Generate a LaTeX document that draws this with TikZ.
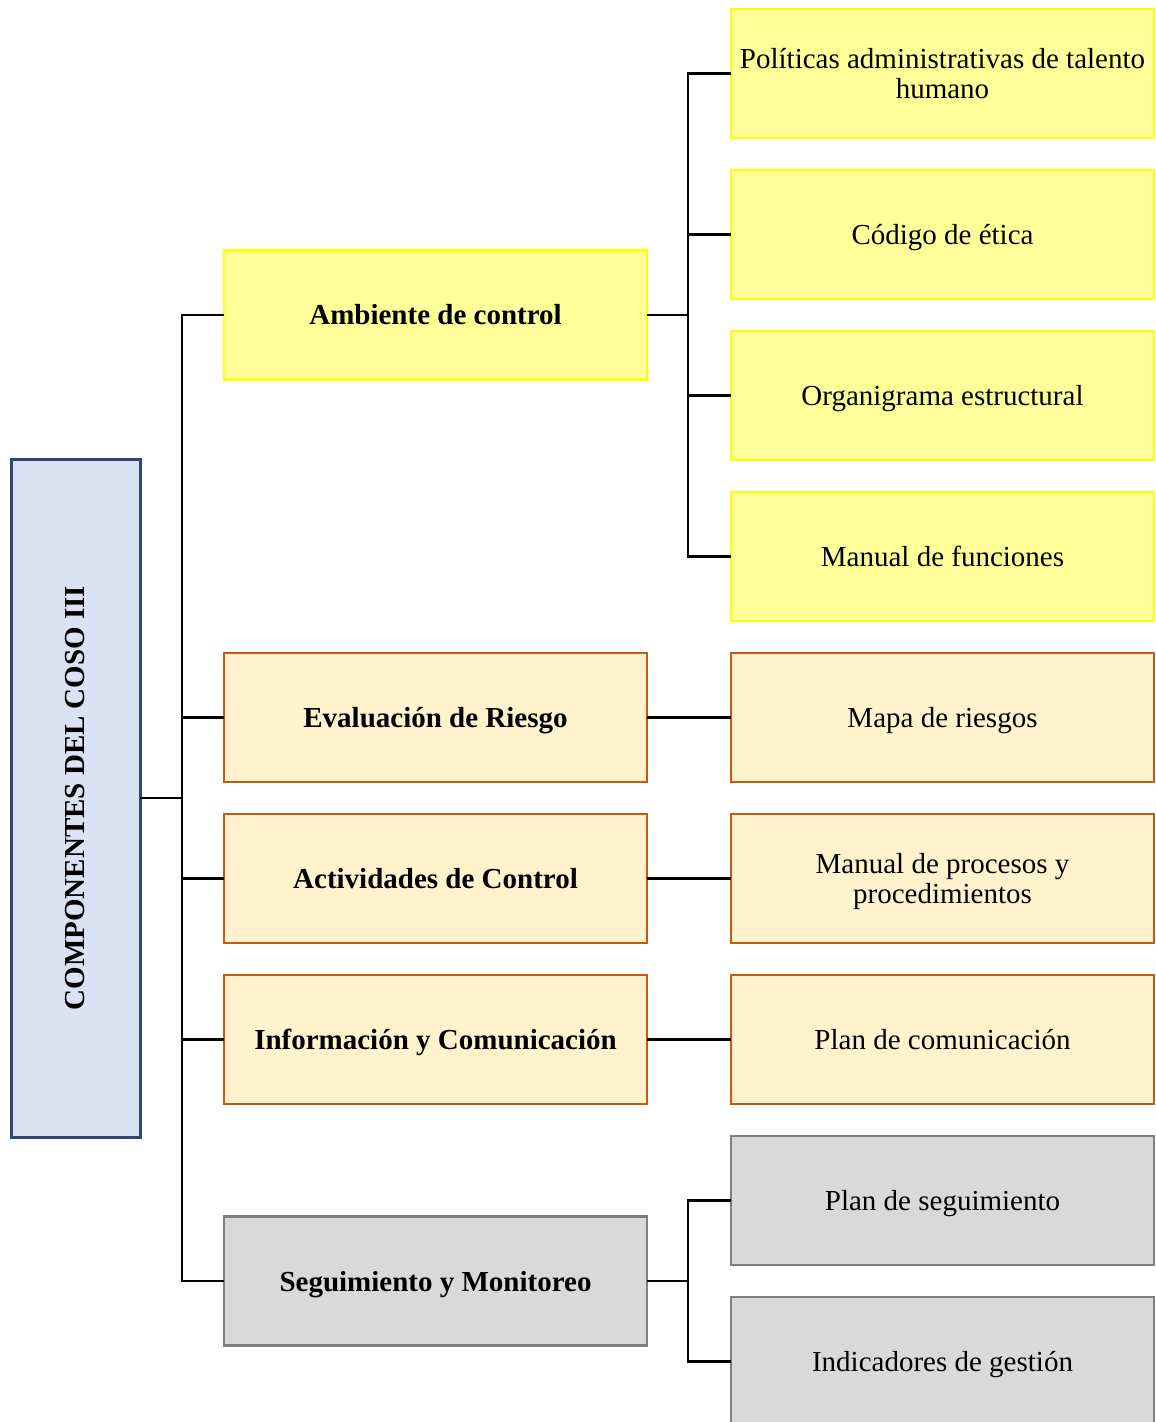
\documentclass[tikz,border=0pt]{standalone}
\usepackage{fontspec}
\setmainfont{Liberation Serif}
\usetikzlibrary{positioning, calc}
\definecolor{rootline}{HTML}{2B4677}
\definecolor{rootbg}{HTML}{DAE3F3}
\definecolor{envline}{HTML}{FFFF00}
\definecolor{envbg}{HTML}{FFFF99}
\definecolor{riskline}{HTML}{C55A11}
\definecolor{riskbg}{HTML}{FFF2CC}
\definecolor{monline}{HTML}{7F7F7F}
\definecolor{monbg}{HTML}{D9D9D9}
\tikzset{
  box/.style={
    draw,
    line width=1.3pt,
    minimum width=211.5pt,
    minimum height=64.5pt,
    align=center,
    inner sep=2pt,
    outer sep=0pt,
    text height=10pt,
    text depth=0pt,
    font=\fontsize{14.5}{15}\selectfont
  },
  twolines/.style={text height=25pt, text depth=0pt},
  comp/.style={box, font=\fontsize{14.5}{15}\selectfont\bfseries},
  envbox/.style={fill=envbg, draw=envline},
  riskbox/.style={fill=riskbg, draw=riskline},
  monbox/.style={fill=monbg, draw=monline},
  rootbox/.style={
    draw=rootline,
    fill=rootbg,
    line width=1.5pt,
    rotate=90,
    minimum width=339pt,
    minimum height=64.5pt,
    outer sep=0pt,
    font=\fontsize{14.5}{15}\selectfont\bfseries
  },
  link/.style={line width=1.25pt, draw=black}
}

\begin{document}
\begin{tikzpicture}[node distance=16pt and 42pt]

\useasboundingbox (0,0) rectangle (577.5pt,-711pt);

% right column
\node[box, envbox, twolines, anchor=north west] (politicas) at (365.5pt,-4.5pt) {
  Políticas administrativas de talento\\humano
};
\node[box, envbox, below=of politicas] (codigo) {Código de ética};
\node[box, envbox, below=of codigo] (organigrama) {Organigrama estructural};
\node[box, envbox, below=of organigrama] (funciones) {Manual de funciones};
\node[box, riskbox, below=of funciones] (mapa) {Mapa de riesgos};
\node[box, riskbox, twolines, below=of mapa] (procesos) {Manual de procesos y\\procedimientos};
\node[box, riskbox, below=of procesos] (comunicacion) {Plan de comunicación};
\node[box, monbox, below=of comunicacion] (seguimientoplan) {Plan de seguimiento};
\node[box, monbox, below=of seguimientoplan] (indicadores) {Indicadores de gestión};

% middle column
\node[comp, envbox, anchor=east] (ambiente)
  at ($(codigo.west)!0.5!(organigrama.west) + (-42pt,0)$) {Ambiente de control};
\node[comp, riskbox, left=of mapa] (evaluacion) {Evaluación de Riesgo};
\node[comp, riskbox, left=of procesos] (actividades) {Actividades de Control};
\node[comp, riskbox, left=of comunicacion] (informacion) {Información y Comunicación};
\node[comp, monbox, anchor=east] (seguimiento)
  at ($(seguimientoplan.west)!0.5!(indicadores.west) + (-42pt,0)$) {Seguimiento y Monitoreo};

% root
\node[rootbox, anchor=south] (root)
  at ($(ambiente.west)!0.5!(seguimiento.west) + (-42pt,0)$) {COMPONENTES DEL COSO III};

% connectors
\draw[link] (root.south) -- ++(21pt,0) |- (ambiente.west);
\draw[link] (root.south) -- ++(21pt,0) |- (evaluacion.west);
\draw[link] (root.south) -- ++(21pt,0) |- (actividades.west);
\draw[link] (root.south) -- ++(21pt,0) |- (informacion.west);
\draw[link] (root.south) -- ++(21pt,0) |- (seguimiento.west);

\draw[link] (ambiente.east) -- ++(20.5pt,0) |- (politicas.west);
\draw[link] (ambiente.east) -- ++(20.5pt,0) |- (codigo.west);
\draw[link] (ambiente.east) -- ++(20.5pt,0) |- (organigrama.west);
\draw[link] (ambiente.east) -- ++(20.5pt,0) |- (funciones.west);
\draw[link] (evaluacion) -- (mapa);
\draw[link] (actividades) -- (procesos);
\draw[link] (informacion) -- (comunicacion);
\draw[link] (seguimiento.east) -- ++(20.5pt,0) |- (seguimientoplan.west);
\draw[link] (seguimiento.east) -- ++(20.5pt,0) |- (indicadores.west);

\end{tikzpicture}
\end{document}
